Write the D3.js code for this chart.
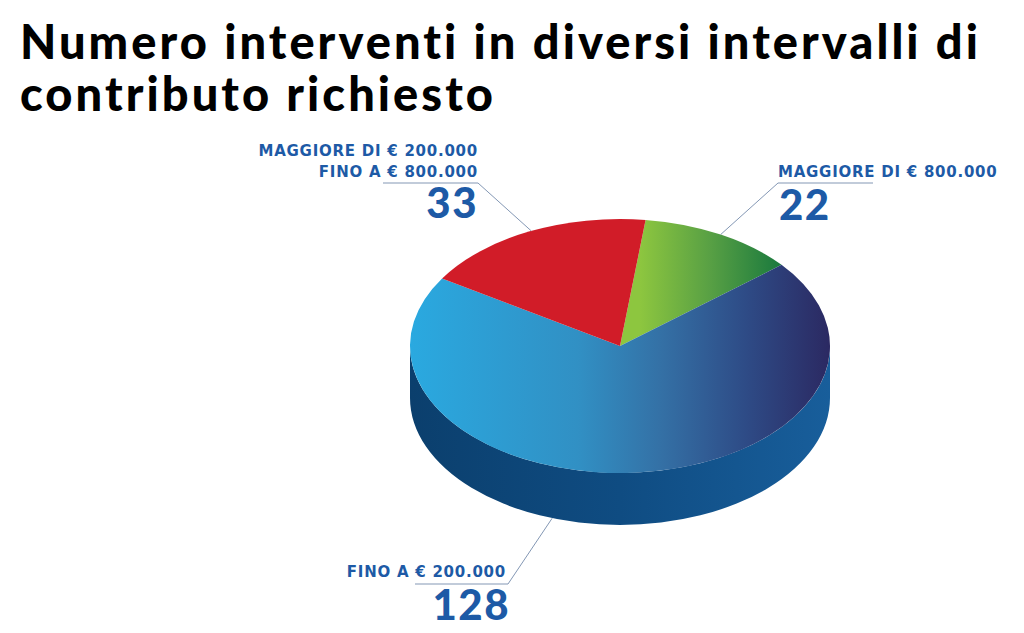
<!DOCTYPE html>
<html>
<head>
<meta charset="utf-8">
<script src="https://cdn.jsdelivr.net/npm/d3@7"></script>
<style>
  body { margin: 0; background: #fff; }
  svg { display: block; }
</style>
</head>
<body>
<svg id="chart" width="1024" height="633"></svg>
<script>
// data, in the order the slices run clockwise from the top
var categories = ['MAGGIORE DI € 800.000', 'FINO A € 200.000', 'MAGGIORE DI € 200.000|FINO A € 800.000'];
var values = [22, 128, 33];
var titleLines = ['Numero interventi in diversi intervalli di', 'contributo richiesto'];

var svg = d3.select('#chart');
var defs = svg.append('defs');

var cx = 620, cy = 346, rx = 210, ry = 127, depth = 52;
var startDeg = 7;

function grad(id, x1, x2, stops) {
  var g = defs.append('linearGradient').attr('id', id)
    .attr('gradientUnits', 'userSpaceOnUse')
    .attr('x1', x1).attr('x2', x2).attr('y1', 0).attr('y2', 0);
  stops.forEach(function(s) {
    g.append('stop').attr('offset', s[0]).attr('stop-color', s[1]);
  });
  return 'url(#' + id + ')';
}

var fills = [
  grad('gGreen', 640, 780, [[0, '#8dc63f'], [0.5, '#58a044'], [1, '#1b7a3e']]),
  grad('gBlue', cx - rx, cx + rx, [[0, '#2aa9e0'], [0.4, '#3190c4'], [0.6, '#3470a5'], [0.8, '#2e4b86'], [1, '#2b2962']]),
  '#d11c28'
];
var sideFill = grad('gSide', cx - rx, cx + rx, [[0, '#0b3f6d'], [0.5, '#0f4c82'], [1, '#185e9b']]);

var pie = d3.pie().sort(null)
  .startAngle(startDeg * Math.PI / 180)
  .endAngle(startDeg * Math.PI / 180 + 2 * Math.PI);
var arcs = pie(values);

function pt(a, dy) {
  return [cx + rx * Math.sin(a), cy - ry * Math.cos(a) + (dy || 0)];
}

// sides (front half only)
var sideG = svg.append('g');
arcs.forEach(function(d, i) {
  var a0 = Math.max(d.startAngle, Math.PI / 2);
  var a1 = Math.min(d.endAngle, 3 * Math.PI / 2);
  if (a1 <= a0) return;
  var p0 = pt(a0), p1 = pt(a1), q1 = pt(a1, depth), q0 = pt(a0, depth);
  var path = 'M' + p0 + ' A' + rx + ',' + ry + ' 0 0 1 ' + p1 +
    ' L' + q1 + ' A' + rx + ',' + ry + ' 0 0 0 ' + q0 + ' Z';
  sideG.append('path').attr('d', path).attr('fill', sideFill);
});

// top face
var topG = svg.append('g');
arcs.forEach(function(d, i) {
  var p0 = pt(d.startAngle), p1 = pt(d.endAngle);
  var large = (d.endAngle - d.startAngle) > Math.PI ? 1 : 0;
  var path = 'M' + cx + ',' + cy + ' L' + p0 + ' A' + rx + ',' + ry + ' 0 ' + large + ' 1 ' + p1 + ' Z';
  topG.append('path').attr('d', path).attr('fill', fills[i]);
});

// title
var title = svg.append('g').attr('font-family', 'Lato, sans-serif').attr('font-weight', 900).attr('fill', '#000');
titleLines.forEach(function(t, i) {
  title.append('text').attr('x', 20).attr('y', 59 + i * 52)
    .attr('font-size', 47).attr('letter-spacing', 3.05).text(t);
});

// labels
var labelColor = '#1d5aa6', leader = '#8397b4';
var labels = [
  { lines: categories[0].split('|'), x: 778, y: 177, anchor: 'start', num: values[0], nx: 779, ny: 220,
    line: [[873, 183], [778, 183]] },
  { lines: categories[1].split('|'), x: 506, y: 577, anchor: 'end', num: values[1], nx: 510, ny: 620,
    line: [[415, 584], [508, 584]] },
  { lines: categories[2].split('|'), x: 478, y: 156, anchor: 'end', num: values[2], nx: 478, ny: 218,
    line: [[383, 183], [478, 183]] }
];
// leader end points sit on the rim of each slice
var rimT = [0.5, 0.59, 0.507];
var lab = svg.append('g');
labels.forEach(function(l, i) {
  var d = arcs[i];
  var a = d.startAngle + (d.endAngle - d.startAngle) * rimT[i];
  var end = (a > Math.PI / 2 && a < 3 * Math.PI / 2) ? pt(a, depth) : pt(a);
  lab.append('polyline')
    .attr('points', [l.line[0], l.line[1], end].join(' '))
    .attr('fill', 'none').attr('stroke', leader).attr('stroke-width', 1);
  l.lines.forEach(function(t, j) {
    lab.append('text').attr('x', l.x).attr('y', l.y + j * 21)
      .attr('text-anchor', l.anchor).attr('font-family', '"DejaVu Sans", sans-serif')
      .attr('font-size', 15).attr('font-weight', 700)
      .attr('letter-spacing', 0.75).attr('fill', labelColor).text(t);
  });
  lab.append('text').attr('x', l.nx).attr('y', l.ny)
    .attr('text-anchor', l.anchor).attr('font-family', 'Lato, sans-serif')
    .attr('font-size', 42).attr('font-weight', 900).attr('letter-spacing', 1.5)
    .attr('fill', labelColor).text(l.num);
});
</script>
</body>
</html>
